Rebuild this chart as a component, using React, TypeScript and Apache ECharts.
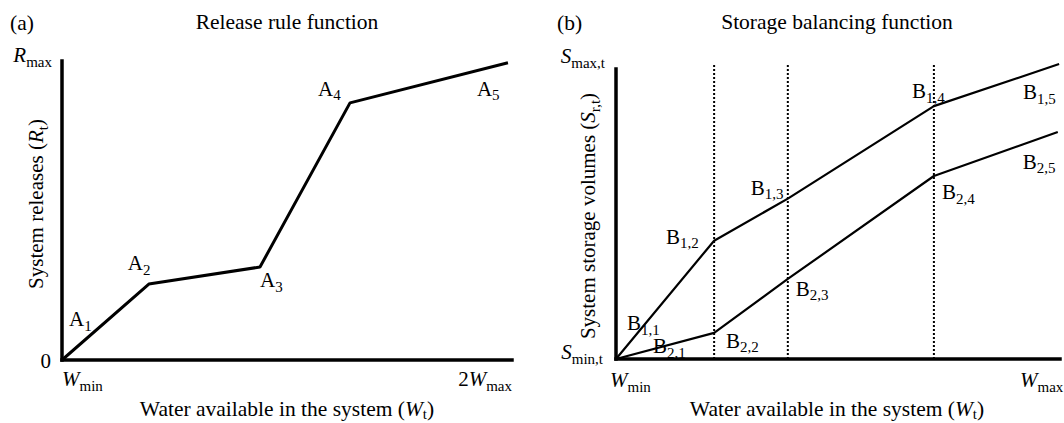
import React, { useEffect, useRef } from "react";
import * as echarts from "echarts";

// Panel (a): release rule function (relative units, 0-100 of each axis)
const releaseX = [0, 19.3, 44.0, 64.0, 99.1];
const releaseY = [0, 25.4, 31.1, 86.0, 99.4];
const releaseNames = ["1", "2", "3", "4", "5"];

// Panel (b): storage balancing function
const storage1X = [0, 22.1, 38.7, 71.6, 99.8];
const storage1Y = [0, 40.8, 55.3, 87.2, 101.7];
const storage1Names = ["1,1", "1,2", "1,3", "1,4", "1,5"];
const storage2X = [0, 22.1, 38.7, 71.6, 99.5];
const storage2Y = [0, 9.0, 27.6, 63.1, 78.3];
const storage2Names = ["2,1", "2,2", "2,3", "2,4", "2,5"];
const dividerX = [22.1, 38.7, 71.6];
const dividerTop = 101.5;

const FONT = "Liberation Serif, Times New Roman, serif";

const zip = (xs: number[], ys: number[]) => xs.map((x, i) => [x, ys[i]]);

export default function App() {
  const ref = useRef<HTMLDivElement>(null);
  useEffect(() => {
    const chart = echarts.init(ref.current!, null, { renderer: "svg" });
    const axisLine = { show: true, lineStyle: { color: "#000", width: 3.5, cap: "square" } };
    const mkAxis = (g: number) => ({
      type: "value",
      gridIndex: g,
      min: 0,
      max: 100,
      interval: 100,
      axisLine,
      axisTick: { show: false },
      axisLabel: { show: false },
      splitLine: { show: false },
    });
    const lineSeries = (g: number, data: number[][], width: number, dash?: any) => ({
      type: "line",
      xAxisIndex: g,
      yAxisIndex: g,
      data,
      symbol: "none",
      clip: false,
      silent: true,
      lineStyle: { color: "#000", width, type: dash || "solid" },
    });
    chart.setOption({
      animation: false,
      backgroundColor: "#fff",
      textStyle: { fontFamily: FONT },
      grid: [
        { left: 62, top: 61, width: 450, height: 299, outerBoundsMode: "none" },
        { left: 616, top: 69, width: 444, height: 290, outerBoundsMode: "none" },
      ],
      xAxis: [mkAxis(0), mkAxis(1)],
      yAxis: [mkAxis(0), mkAxis(1)],
      series: [
        lineSeries(0, zip(releaseX, releaseY), 3),
        lineSeries(1, zip(storage1X, storage1Y), 2.2),
        lineSeries(1, zip(storage2X, storage2Y), 2.2),
        ...dividerX.map((x) => lineSeries(1, [[x, 0], [x, dividerTop]], 2, [2, 2])),
      ],
    });

    const p = (g: number, x: number, y: number) =>
      chart.convertToPixel({ gridIndex: g } as any, [x, y]) as number[];

    const mkRich = (size: number, subSize: number, pad: number) => ({
      m: { fontFamily: FONT, fontSize: size, fill: "#000", verticalAlign: "middle" },
      i: { fontFamily: FONT, fontSize: size, fontStyle: "italic", fill: "#000", verticalAlign: "middle" },
      s: { fontFamily: FONT, fontSize: subSize, fill: "#000", padding: [pad, 0, 0, 0], verticalAlign: "middle" },
    });
    const rich = mkRich(21, 15, 13);
    const richTitle = mkRich(21.5, 15, 12);
    const richLow = mkRich(21.5, 15, 10);
    const txt = (x: number, y: number, text: string, align: string, extra: any = {}, r: any = rich) => ({
      type: "text",
      x,
      y,
      silent: true,
      ...extra,
      style: {
        text,
        rich: r,
        fontFamily: FONT,
        fontSize: 21,
        fill: "#000",
        textAlign: align,
        textVerticalAlign: "middle",
      },
    });

    const elements: any[] = [];
    // point labels
    const releaseOffsets = [[7, -41], [-21, -21], [0, 13], [-32, -14], [-31, 26]];
    const storage1Offsets = [[11, -36], [-48, -4], [-37, -11], [-22, -15], [-36, 28]];
    const storage2Offsets = [[37, -13], [12, 8], [8, 10], [8, 16], [-35, 30]];
    releaseX.forEach((x, i) => {
      const [px, py] = p(0, x, releaseY[i]);
      elements.push(txt(px + releaseOffsets[i][0], py + releaseOffsets[i][1], `{m|A}{s|${releaseNames[i]}}`, "left"));
    });
    storage1X.forEach((x, i) => {
      const [px, py] = p(1, x, storage1Y[i]);
      elements.push(txt(px + storage1Offsets[i][0], py + storage1Offsets[i][1], `{m|B}{s|${storage1Names[i]}}`, "left"));
    });
    storage2X.forEach((x, i) => {
      const [px, py] = p(1, x, storage2Y[i]);
      elements.push(txt(px + storage2Offsets[i][0], py + storage2Offsets[i][1], `{m|B}{s|${storage2Names[i]}}`, "left"));
    });

    // axis end labels
    const [a0x, a0y] = p(0, 0, 0);
    const [a1x, a1y] = p(0, 100, 100);
    const [b0x, b0y] = p(1, 0, 0);
    const [b1x, b1y] = p(1, 100, 100);
    elements.push(txt(a0x - 11, a0y + 1, "{m|0}", "right"));
    elements.push(txt(a0x - 10, a1y - 6, "{i|R}{s|max}", "right"));
    elements.push(txt(a0x, a0y + 19, "{i|W}{s|min}", "left"));
    elements.push(txt(a1x, a0y + 19, "{m|2}{i|W}{s|max}", "right"));
    elements.push(txt(b0x - 13, b0y - 7, "{i|S}{s|min,t}", "right"));
    elements.push(txt(b0x - 11, b1y - 13, "{i|S}{s|max,t}", "right"));
    elements.push(txt(b0x - 6, b0y + 21, "{i|W}{s|min}", "left"));
    elements.push(txt(b1x - 40, b0y + 21, "{i|W}{s|max}", "left"));

    // titles
    const xTitle = "{m|Water available in the system (}{i|W}{s|t}{m|)}";
    elements.push(txt(10, 23, "{m|(a)}", "left", {}, richTitle));
    elements.push(txt(557, 23, "{m|(b)}", "left", {}, richTitle));
    elements.push(txt((a0x + a1x) / 2, 22, "{m|Release rule function}", "center", {}, richTitle));
    elements.push(txt(837, 22, "{m|Storage balancing function}", "center", {}, richTitle));
    elements.push(txt((a0x + a1x) / 2, 409, xTitle, "center", {}, richLow));
    elements.push(txt(837, 409, xTitle, "center", {}, richLow));
    elements.push(txt(36, 204, "{m|System releases (}{i|R}{s|t}{m|)}", "center", { rotation: Math.PI / 2 }));
    elements.push(txt(588, 216, "{m|System storage volumes (}{i|S}{s|r,t}{m|)}", "center", { rotation: Math.PI / 2 }));

    chart.setOption({ graphic: { elements } });
    return () => chart.dispose();
  }, []);
  return (
    <div
      ref={ref}
      style={{ position: "fixed", left: 0, top: 0, width: 1064, height: 423, background: "#fff" }}
    />
  );
}
